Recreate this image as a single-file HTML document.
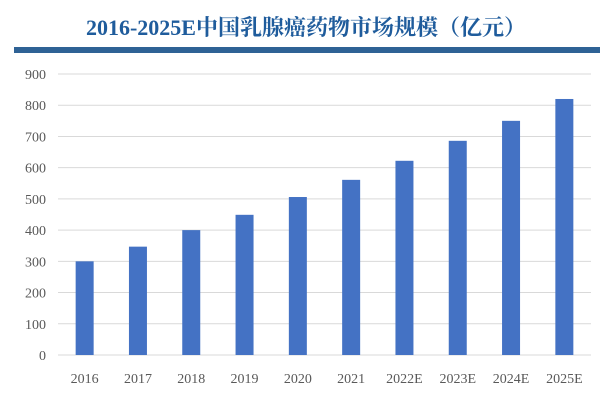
<!DOCTYPE html>
<html><head><meta charset="utf-8"><style>
body{margin:0;background:#fff;width:600px;height:400px;overflow:hidden}
</style></head><body>
<svg width="600" height="400" id="c" font-family="'Liberation Serif','Noto Serif CJK SC',serif">
<text x="306" y="35" text-anchor="middle" font-size="22" font-weight="bold" fill="#1f5c9c" font-family="'Liberation Serif','Noto Serif CJK SC',serif">2016-2025E中国乳腺癌药物市场规模（亿元）</text>
<rect x="14" y="47" width="586" height="6" fill="#2f6295"/>
</svg>
<script>
const categories=["2016","2017","2018","2019","2020","2021","2022E","2023E","2024E","2025E"];
const values=[300,347,400,449,506,561,622,686,750,820];
const ticks=[0,100,200,300,400,500,600,700,800,900];
const svg=document.getElementById('c');const NS='http://www.w3.org/2000/svg';
const x0=58,x1=591,y0=355,y900=74;
const y=v=>y0-(v/900)*(y0-y900);
const bw=(x1-x0)/categories.length;
const xc=i=>x0+bw*(i+0.5);
function mk(t,a){const e=document.createElementNS(NS,t);for(const k in a)e.setAttribute(k,a[k]);svg.appendChild(e);return e;}
ticks.forEach(t=>{
 const l=mk('line',{x1:x0,x2:x1,y1:y(t),y2:y(t),stroke:'#d9d9d9','stroke-width':1});
 
 
 const tx=mk('text',{x:46,y:y(t)+5,'text-anchor':'end','font-size':14,fill:'#595959'});
 tx.textContent=t;
 
 
});
categories.forEach((c,i)=>{
 const r=mk('rect',{x:xc(i)-9,y:y(values[i]),width:18,height:y0-y(values[i]),fill:'#4472c4'});
 
 
 const tx=mk('text',{x:xc(i),y:383,'text-anchor':'middle','font-size':14,fill:'#595959'});
 tx.textContent=c;
 
 
});
</script>
</body></html>
